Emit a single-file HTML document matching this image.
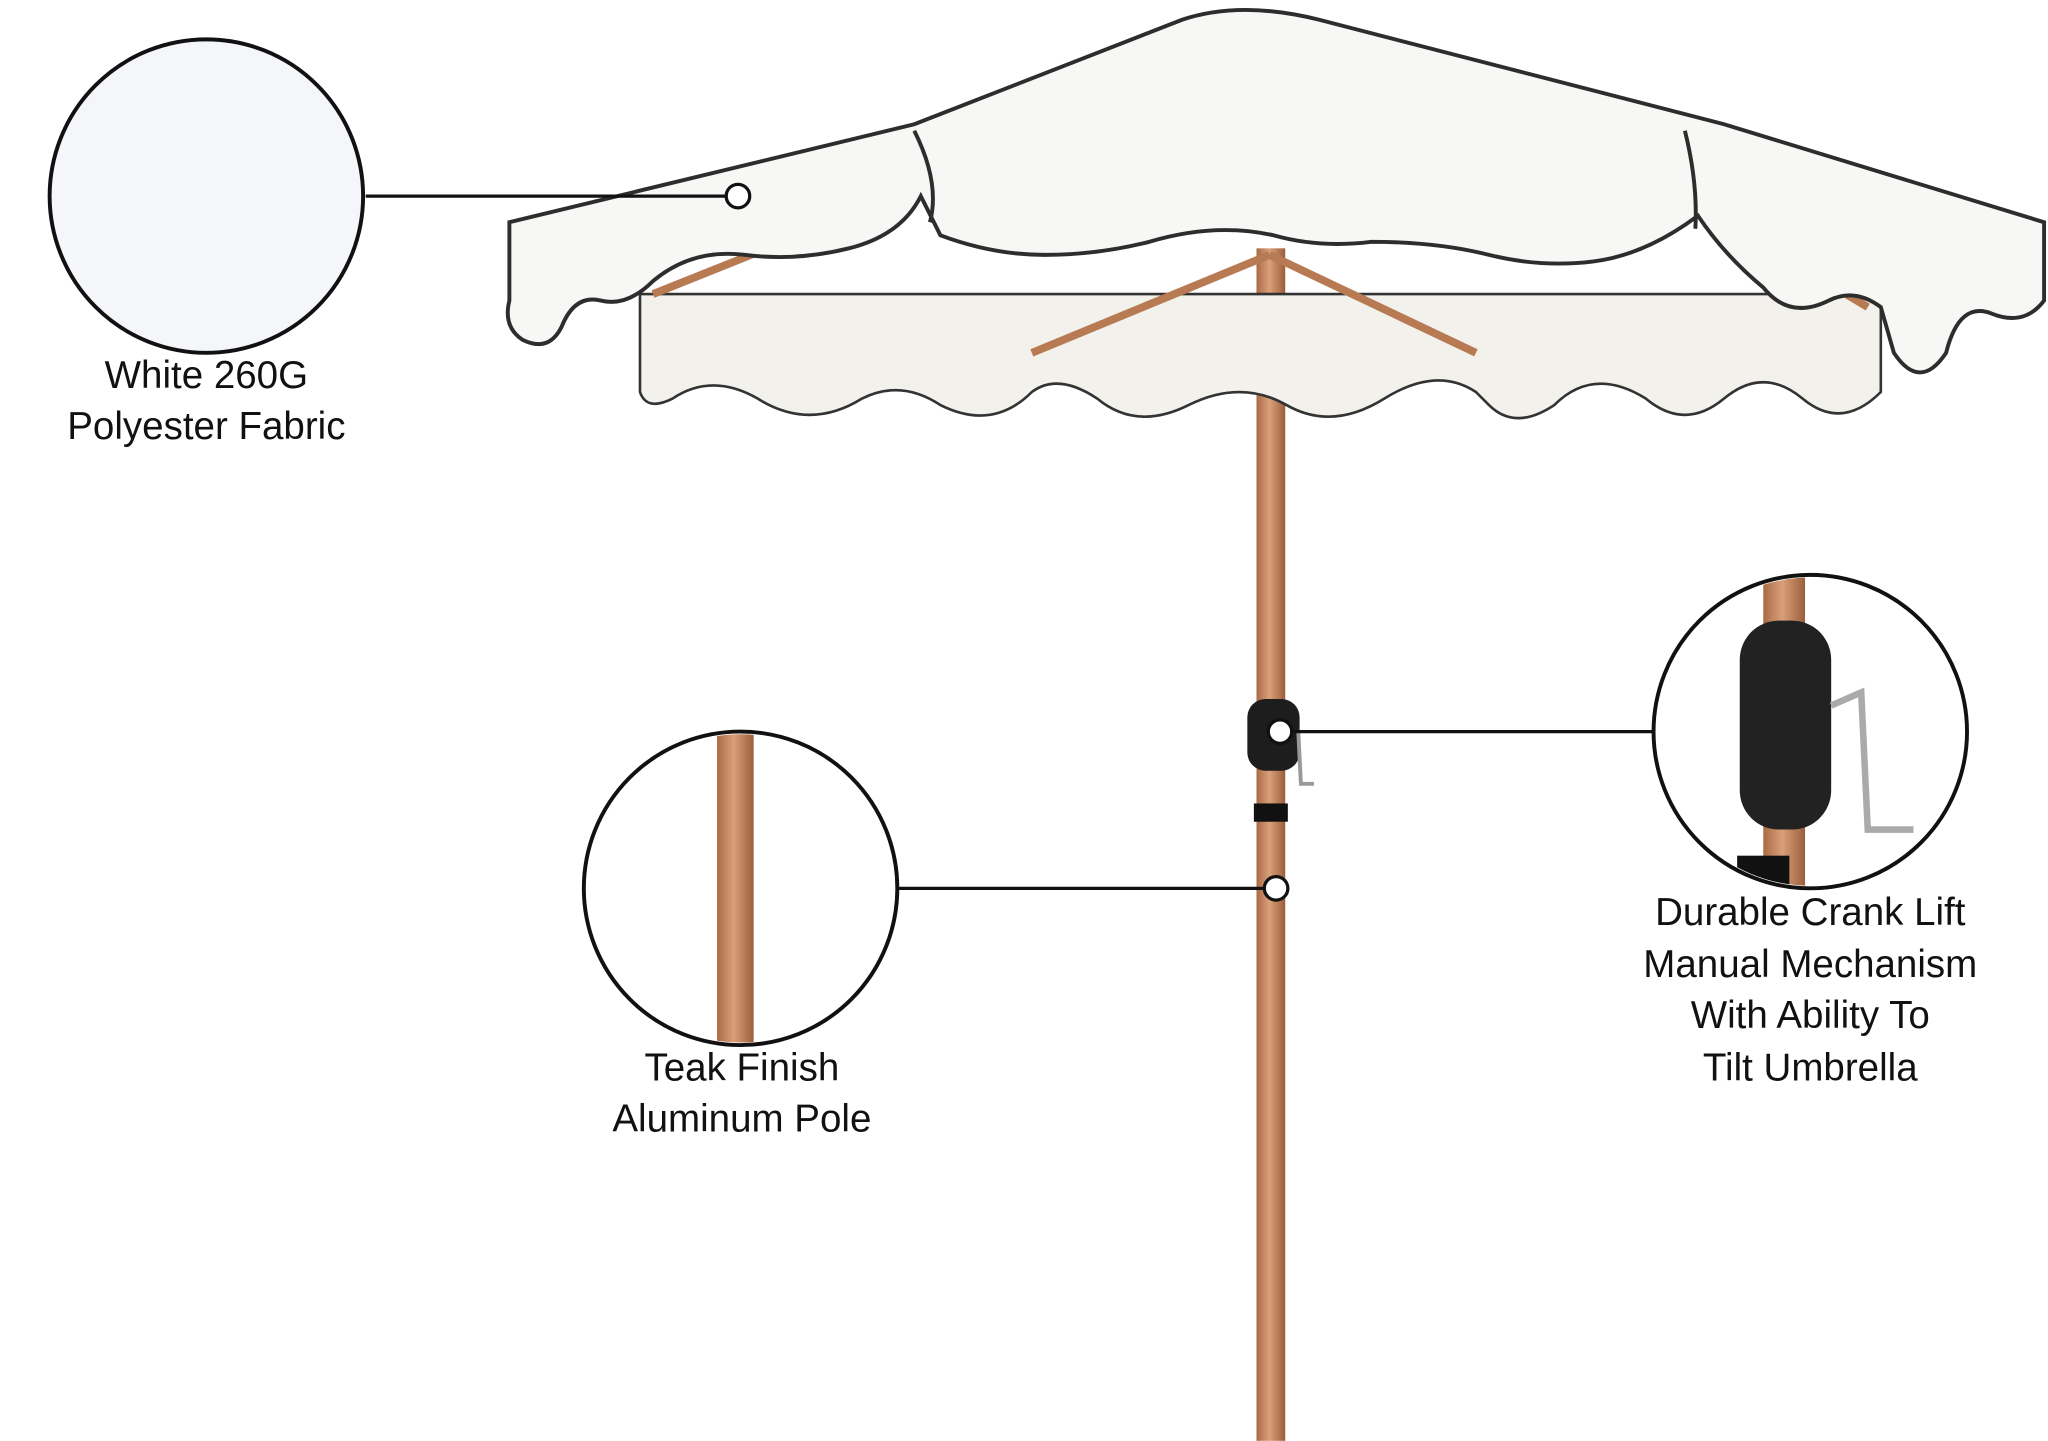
<!DOCTYPE html>
<html><head><meta charset="utf-8"><style>
html,body{margin:0;padding:0;background:#fff;}
svg{display:block}
text{font-family:"Liberation Sans","DejaVu Sans",sans-serif;font-size:29.5px;fill:#111;text-anchor:middle}
</style></head><body>
<svg width="2048" height="1441" viewBox="0 0 1568 1103" xmlns="http://www.w3.org/2000/svg">
<defs>
<linearGradient id="pole" x1="0" x2="1">
<stop offset="0" stop-color="#a96a44"/><stop offset="0.45" stop-color="#d9a07a"/><stop offset="1" stop-color="#9b5e3b"/>
</linearGradient>
<clipPath id="c2"><circle cx="567" cy="680" r="118"/></clipPath>
<clipPath id="c3"><circle cx="1386" cy="560" r="118"/></clipPath>
</defs>
<rect x="962" y="190" width="22" height="913" fill="url(#pole)"/>
<rect x="960" y="615" width="26" height="14" fill="#111"/>
<path d="M490,225 L1440,225 L1440,300 Q1410,330 1380,305 Q1350,280 1320,305 Q1290,330 1260,305 Q1220,280 1190,310 Q1160,330 1140,310 L1130,300 Q1100,280 1060,305 Q1020,330 985,310 Q950,290 910,310 Q870,330 840,305 Q810,285 790,300 Q760,330 720,310 Q690,290 660,305 Q620,330 580,305 Q545,285 515,305 Q495,315 490,300 Z" fill="#f2f1ec" stroke="#333" stroke-width="2"/>
<g stroke="#b77a52" stroke-width="6">
<line x1="972" y1="195" x2="790" y2="270"/>
<line x1="972" y1="195" x2="1130" y2="270"/>
<line x1="1330" y1="175" x2="1430" y2="235"/>
<line x1="600" y1="185" x2="500" y2="225"/>
</g>
<path d="M905,15 Q950,0 1010,15 L1320,95 L1565,170 L1565,230 Q1550,250 1525,240 Q1500,230 1490,270 Q1470,300 1450,270 L1440,235 Q1420,220 1400,230 Q1370,245 1350,220 Q1320,195 1300,165 Q1260,195 1220,200 Q1180,205 1140,195 Q1100,185 1050,185 Q1010,190 975,180 Q930,170 880,185 Q840,195 800,195 Q760,195 720,180 L705,150 Q690,180 650,190 Q610,200 570,195 Q530,190 500,215 Q480,235 460,230 Q440,225 430,250 Q420,270 400,260 Q385,250 390,230 L390,170 L700,95 Z" fill="#f7f7f5" stroke="#2d2d2d" stroke-width="3"/>
<path d="M700,100 Q720,140 712,170 M1290,100 Q1300,140 1298,175" fill="none" stroke="#2d2d2d" stroke-width="3"/>
<rect x="955" y="535" width="40" height="55" rx="14" fill="#1d1d1d"/>
<path d="M994,560 L996,600 L1006,600" fill="none" stroke="#999" stroke-width="3"/>
<circle cx="158" cy="150" r="120" fill="#f4f6f9" stroke="#111" stroke-width="3"/>
<line x1="280" y1="150" x2="556" y2="150" stroke="#111" stroke-width="2.5"/>
<circle cx="565" cy="150" r="9" fill="#fff" stroke="#111" stroke-width="2.5"/>
<text x="158" y="297">White 260G</text>
<text x="158" y="336">Polyester Fabric</text>
<circle cx="567" cy="680" r="120" fill="#fff"/>
<rect x="549" y="555" width="28" height="250" fill="url(#pole)" clip-path="url(#c2)"/>
<circle cx="567" cy="680" r="120" fill="none" stroke="#111" stroke-width="3"/>
<line x1="688" y1="680" x2="968" y2="680" stroke="#111" stroke-width="2.5"/>
<circle cx="977" cy="680" r="9" fill="#fff" stroke="#111" stroke-width="2.5"/>
<text x="568" y="827">Teak Finish</text>
<text x="568" y="866">Aluminum Pole</text>
<circle cx="1386" cy="560" r="120" fill="#fff"/>
<g clip-path="url(#c3)">
<rect x="1350" y="430" width="32" height="260" fill="url(#pole)"/>
<rect x="1332" y="475" width="70" height="160" rx="30" fill="#222"/>
<path d="M1402,540 L1425,530 L1430,635 L1465,635" fill="none" stroke="#aaa" stroke-width="5"/>
<rect x="1330" y="655" width="40" height="40" fill="#111"/>
</g>
<circle cx="1386" cy="560" r="120" fill="none" stroke="#111" stroke-width="3"/>
<line x1="989" y1="560" x2="1266" y2="560" stroke="#111" stroke-width="2.5"/>
<circle cx="980" cy="560" r="9" fill="#fff" stroke="#111" stroke-width="2.5"/>
<text x="1386" y="708">Durable Crank Lift</text>
<text x="1386" y="748">Manual Mechanism</text>
<text x="1386" y="787">With Ability To</text>
<text x="1386" y="827">Tilt Umbrella</text>
</svg>
</body></html>
